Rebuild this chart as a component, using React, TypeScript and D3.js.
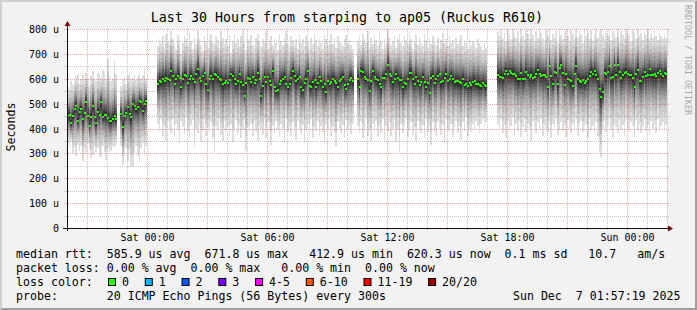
import React from 'react';
import * as d3 from 'd3';

// ---------- data ----------
const TITLE = 'Last 30 Hours from starping to ap05 (Ruckus R610)';
const Y_TICKS = [0, 100, 200, 300, 400, 500, 600, 700, 800];
const Y_LABELS = ['0', '100 u', '200 u', '300 u', '400 u', '500 u', '600 u', '700 u', '800 u'];

// step index (5 min steps from Fri 20:00) where each data segment starts
const SEG_STARTS = [0, 32, 54, 174, 258];

const med1 = [452,455,421,450,480,492,432,468,479,439,461,505,452,412,448,492,448,421,465,456,505,448,456,456,443,429,429,440,452,438];
const hi1 = [565,560,590,575,595,610,620,580,600,615,590,625,600,570,610,630,600,590,625,615,605,635,620,600,680,610,590,600,675,620];
const lo1 = [340,330,345,300,325,290,335,310,330,270,320,300,340,315,280,295,330,305,320,290,285,330,305,275,320,300,310,330,320,335];

const med2 = [459,408,452,461,485,459,445,499,492,479,485,512,505,472,499,510];
const hi2 = [570,600,610,580,615,625,600,605,620,595,610,625,600,615,640,600];
const lo2 = [330,255,300,320,270,310,250,245,300,330,290,265,320,340,300,330];

const med3 = [579,592,588,599,592,605,600,595,632,610,580,600,612,605,565,598,615,610,582,600,612,598,585,620,640,605,590,612,625,580,555,600,612,598,620,615,
  608,600,595,579,581,590,581,595,619,610,599,579,590,621,585,576,532,581,605,600,585,608,581,595,625,599,532,570,608,585,
  608,590,576,632,565,552,555,579,590,599,608,579,565,580,603,632,612,592,600,608,565,555,581,600,632,572,565,585,595,565,
  581,608,590,565,579,545,589,579,585,600,592,581,565,590,599,608,575,560,580,595,605,590];
const hi3 = [730,760,745,770,720,780,750,735,790,760,740,720,775,755,700,745,770,760,730,785,
  750,720,765,740,795,760,735,710,770,750,725,760,780,745,735,770,755,720,790,765,
  740,760,730,775,705,750,780,745,760,730,770,795,740,715,760,750,775,735,720,765,
  780,750,730,760,745,790,720,755,770,735,760,745,715,780,750,735,765,790,740,725,
  770,755,735,760,720,780,745,760,730,770,750,715,765,740,785,755,730,760,745,720,
  775,760,735,750,780,740,765,725,770,750,745,730,760,775,740,755,735,720];
const lo3 = [420,390,440,370,410,350,430,400,380,440,360,420,395,340,430,405,375,445,390,360,
  415,435,330,400,380,420,350,390,440,370,405,385,425,360,300,410,395,440,375,350,
  430,390,410,365,420,345,400,435,380,415,360,395,440,310,405,385,420,370,430,390,
  350,415,400,375,440,360,425,390,335,410,380,430,395,365,420,400,350,440,385,410,
  370,425,390,355,430,400,380,415,345,395,420,375,440,360,405,390,430,370,410,385,
  355,420,395,440,370,405,385,330,425,400,380,415,360,435,395,410,375,420];

const med4 = [599,565,632,629,608,600,595,552,590,632,608,599,595,579,565,605,603,620,656,619,
  612,585,599,619,605,595,595,565,581,579,600,625,625,599,579,608,590,576,585,608,
  585,565,581,541,605,612,581,600,612,619,585,592,605,619,592,599,610,599,585,589,
  589,585,581,600,576,579,572,581,575,585,590,580,578,576,572,581,575,570];
const hi4 = [750,770,735,780,760,745,790,720,765,740,775,755,730,785,750,720,760,740,795,765,
  735,750,770,725,760,780,745,730,770,755,740,790,760,720,750,775,735,765,745,730,
  780,755,725,760,740,770,750,735,765,720,755,785,740,760,730,770,745,755,720,765,
  740,760,775,730,750,745,720,760,735,750,740,725,760,745,730,715,740,725];
const lo4 = [410,380,430,360,400,440,370,395,350,420,390,430,365,405,380,440,355,410,390,425,
  370,400,435,345,395,300,420,380,410,440,365,390,425,375,405,350,430,395,380,415,
  360,440,385,410,335,425,390,370,430,400,375,415,350,440,395,385,420,365,405,430,
  380,410,355,425,390,445,370,400,385,420,395,430,410,380,420,440,405,425];

const med5 = [615,608,608,605,618,632,619,632,625,621,619,610,599,599,625,599,599,629,616,608,
  616,605,608,620,635,619,612,616,616,608,568,652,612,579,629,625,579,645,656,625,
  576,619,599,595,589,572,621,652,599,589,585,595,581,592,600,610,629,620,632,615,
  600,560,525,545,624,621,629,652,603,608,656,616,656,629,603,616,625,629,621,616,
  616,603,568,621,635,592,592,608,629,612,616,639,616,616,620,612,625,630,618,612,622,620];
const hi5 = [790,770,800,760,785,750,795,775,760,800,780,765,790,745,800,770,755,795,780,760,
  800,775,750,790,765,800,785,760,740,795,770,800,755,780,765,790,745,800,775,760,
  785,800,770,750,795,780,760,800,765,790,775,745,800,770,785,760,795,750,780,800,
  765,790,800,775,760,785,770,800,755,790,780,765,800,745,790,775,760,800,785,770,
  750,795,780,760,800,770,785,755,790,775,800,760,780,765,790,770,755,785,770,760,775,765];
const lo5 = [420,400,440,380,415,360,430,395,410,445,375,420,390,430,365,405,440,385,420,400,
  350,430,410,380,425,395,440,370,415,400,385,430,360,420,405,440,375,395,425,390,
  410,365,435,400,380,420,395,440,370,410,430,385,405,420,360,440,395,410,380,425,
  370,300,285,400,430,385,415,440,395,360,420,405,380,430,395,415,370,440,400,385,
  425,410,360,435,395,420,380,405,440,390,415,375,430,400,420,385,440,395,410,425,400,415];

const LOSS_LABELS = ['0', '1', '2', '3', '4-5', '6-10', '11-19', '20/20'];
const LOSS_COLORS = ['#26ff00', '#00b8ff', '#0059ff', '#7e00ff', '#ff00ff', '#ff5500', '#ff0000', '#a10000'];

const ROW_RTT = 'median rtt:  585.9 us avg  671.8 us max   412.9 us min  620.3 us now  0.1 ms sd   10.7   am/s';
const ROW_LOSS = 'packet loss: 0.00 % avg  0.00 % max   0.00 % min  0.00 % now';
const ROW_COLOR = 'loss color:';
const ROW_PROBE = 'probe:       20 ICMP Echo Pings (56 Bytes) every 300s';
const STAMP = 'Sun Dec  7 01:57:19 2025';
const WATERMARK = 'RRDTOOL / TOBI OETIKER';

// ---------- layout ----------
const W = 697, H = 310;
const X0 = 67, X1 = 667, Y0 = 228, Y1 = 29;
const START = Date.UTC(2025, 11, 5, 20, 0, 0);
const END = Date.UTC(2025, 11, 7, 2, 0, 0);
const STEP = 300000;
const MONO = '"DejaVu Sans Mono", monospace';
const SMOKE_F = [1, 0.78, 0.62, 0.5, 0.41, 0.33, 0.26, 0.2, 0.14, 0.08];

export default function App() {
  const x = d3.scaleUtc().domain([new Date(START), new Date(END)]).range([X0, X1]);
  const y = d3.scaleLinear().domain([0, 800]).range([Y0, Y1]);
  const segs = [
    { s: SEG_STARTS[0], m: med1, h: hi1, l: lo1 },
    { s: SEG_STARTS[1], m: med2, h: hi2, l: lo2 },
    { s: SEG_STARTS[2], m: med3, h: hi3, l: lo3 },
    { s: SEG_STARTS[3], m: med4, h: hi4, l: lo4 },
    { s: SEG_STARTS[4], m: med5, h: hi5, l: lo5 },
  ];
  const shades = d3.range(1, 11).map((i) => Math.floor((190 / 10) * (10 - i)) + 50);

  const smoke: JSX.Element[] = [];
  const dots: JSX.Element[] = [];
  segs.forEach((seg, si) => {
    seg.m.forEach((m, j) => {
      const i = seg.s + j;
      const xa = Math.round(x(new Date(START + i * STEP)));
      const xb = Math.round(x(new Date(START + (i + 1) * STEP)));
      if (xb <= xa) return;
      SMOKE_F.forEach((f, k) => {
        const top = Math.min(800, m + (seg.h[j] - m) * f);
        const bot = Math.max(0, m - (m - seg.l[j]) * f);
        const ya = Math.round(y(top));
        const yb = Math.round(y(bot));
        const c = shades[k];
        smoke.push(
          <rect key={`s${si}-${j}-${k}`} x={xa} y={ya} width={xb - xa} height={Math.max(1, yb - ya)}
            fill={d3.rgb(c, c, c).formatHex()} />
        );
      });
      const ym = Math.round(y(m));
      dots.push(<rect key={`d${si}-${j}`} x={xa} y={ym - 1} width={Math.max(2, xb - xa)} height={2} fill={LOSS_COLORS[0]} />);
    });
  });

  const hours = x.ticks(d3.utcHour.every(1)!).filter((d) => +d > START);
  const labelTicks = x.ticks(d3.utcHour.every(6)!);
  const fmt = d3.utcFormat('%a %H:%M');
  const px = (v: number) => Math.round(v) + 0.5;

  const gridMinor = 'rgba(143,143,143,0.55)';
  const gridMajor = 'rgba(224,80,80,0.5)';

  const yMinor = d3.range(50, 801, 100);

  // legend boxes
  let bx = 108;
  const boxes = LOSS_LABELS.map((lab, i) => {
    const el = (
      <g key={`lb${i}`}>
        <rect x={bx + 0.5} y={278.5} width={7} height={7} fill={LOSS_COLORS[i]} stroke="#000" strokeWidth={1} />
        <text x={bx + 14} y={286} fontFamily={MONO} fontSize={11.6}>{lab}</text>
      </g>
    );
    bx += 14 + lab.length * 6.97 + 15.8;
    return el;
  });

  return (
    <svg width={W} height={H} viewBox={`0 0 ${W} ${H}`} style={{ position: 'absolute', left: 0, top: 0, display: 'block' }}
      xmlns="http://www.w3.org/2000/svg">
      <rect x={0} y={0} width={W} height={H} fill="#f2f2f2" />
      {/* frame shading */}
      <polygon points={`0,0 ${W},0 ${W - 2},2 2,2 2,${H - 2} 0,${H}`} fill="#cfcfcf" />
      <polygon points={`${W},0 ${W},${H} 0,${H} 2,${H - 2} ${W - 2},${H - 2} ${W - 2},2`} fill="#9e9e9e" />
      {/* canvas */}
      <rect x={X0} y={Y1} width={X1 - X0} height={Y0 - Y1} fill="#ffffff" />
      <g shapeRendering="crispEdges">{smoke}</g>
      <g shapeRendering="crispEdges">{dots}</g>
      {/* grid */}
      <g strokeDasharray="1,1" strokeWidth={1} shapeRendering="crispEdges">
        {yMinor.map((v) => (
          <line key={`ym${v}`} x1={X0 - 3} x2={X1 + 2} y1={px(y(v))} y2={px(y(v))} stroke={gridMinor} />
        ))}
        {hours.filter((d) => d.getUTCHours() % 3 !== 0).map((d) => (
          <line key={`xm${+d}`} x1={px(x(d))} x2={px(x(d))} y1={Y1} y2={Y0 + 3} stroke={gridMinor} />
        ))}
        {Y_TICKS.filter((v) => v > 0).map((v) => (
          <line key={`yM${v}`} x1={X0 - 3} x2={X1 + 2} y1={px(y(v))} y2={px(y(v))} stroke={gridMajor} />
        ))}
        {hours.filter((d) => d.getUTCHours() % 3 === 0).map((d) => (
          <line key={`xM${+d}`} x1={px(x(d))} x2={px(x(d))} y1={Y1} y2={Y0 + 3} stroke={gridMajor} />
        ))}
      </g>
      {/* axes */}
      <g shapeRendering="crispEdges">
        <line x1={X0 - 4} x2={X1 + 2} y1={px(Y0)} y2={px(Y0)} stroke="#101010" />
        <line x1={px(X0)} x2={px(X0)} y1={Y0 + 3} y2={Y1 - 4} stroke="#101010" />
      </g>
      <polygon points={`${X1 + 1},${Y0 - 2.5} ${X1 + 1},${Y0 + 3.5} ${X1 + 6},${Y0 + 0.5}`} fill="#7f0000" />
      <polygon points={`${X0 - 2.5},${Y1 - 3} ${X0 + 3.5},${Y1 - 3} ${X0 + 0.5},${Y1 - 8}`} fill="#7f0000" />
      {/* y labels */}
      {Y_TICKS.map((v, i) => (
        <text key={`yl${v}`} x={59} y={px(y(v)) + 3.5} textAnchor="end" fontFamily={MONO} fontSize={10}>{Y_LABELS[i]}</text>
      ))}
      {/* x labels */}
      {labelTicks.map((d) => (
        <text key={`xl${+d}`} x={px(x(d))} y={241} textAnchor="middle" fontFamily={MONO} fontSize={10}>{fmt(d)}</text>
      ))}
      {/* title */}
      <text x={347} y={22} textAnchor="middle" fontFamily={MONO} fontSize={13.3}>{TITLE}</text>
      <text transform="translate(14.5,127) rotate(-90)" textAnchor="middle" fontFamily={MONO} fontSize={11.6}>Seconds</text>
      <text transform="translate(685,5) rotate(90)" fontFamily={MONO} fontSize={8.3} fill="#a8a8a8">{WATERMARK}</text>
      {/* legend */}
      <g fontFamily={MONO} fontSize={11.6} style={{ whiteSpace: 'pre' }}>
        <text x={16} y={258} xmlSpace="preserve">{ROW_RTT}</text>
        <text x={16} y={272} xmlSpace="preserve">{ROW_LOSS}</text>
        <text x={16} y={286} xmlSpace="preserve">{ROW_COLOR}</text>
        <text x={16} y={300} xmlSpace="preserve">{ROW_PROBE}</text>
        <text x={680.5} y={300} textAnchor="end" xmlSpace="preserve">{STAMP}</text>
      </g>
      {boxes}
    </svg>
  );
}
